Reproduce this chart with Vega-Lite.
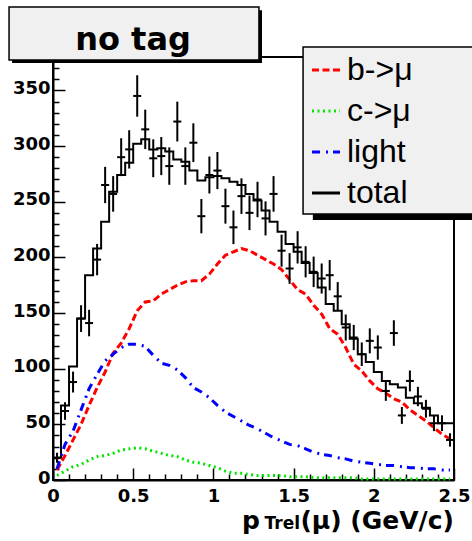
{
  "$schema": "https://vega.github.io/schema/vega-lite/v6.json",
  "width": 401,
  "height": 423,
  "autosize": {"type": "none"},
  "padding": {"left": 53, "top": 57, "right": 18, "bottom": 61},
  "background": "white",
  "resolve": {"axis": {"x": "independent", "y": "independent"}},
  "config": {
    "view": {"stroke": "#000", "strokeWidth": 2},
    "axis": {
      "domainColor": "#000", "domainWidth": 2, "tickColor": "#000", "tickWidth": 1.5,
      "labelColor": "#000", "labelFont": "DejaVu Sans", "labelFontWeight": "bold", "labelFontSize": 18,
      "grid": false, "title": null, "labelOverlap": false, "labelFlush": false, "labelBound": false
    },
    "legend": {
      "orient": "none", "legendX": 257, "legendY": -3, "padding": 0, "title": null,
      "symbolType": "stroke", "symbolSize": 784, "symbolStrokeWidth": 3,
      "labelFont": "Liberation Sans", "labelFontSize": 32, "labelColor": "#000",
      "labelOffset": 5, "rowPadding": 9
    }
  },
  "datasets": {
    "bins": [
      {"x":0.025,"xl":0.0,"xh":0.05,"d":20,"lo":15.5,"hi":24.5,"b":9,"c":4,"light":10},
      {"x":0.075,"xl":0.05,"xh":0.1,"d":62,"lo":54.1,"hi":69.9,"b":22,"c":8,"light":32},
      {"x":0.125,"xl":0.1,"xh":0.15,"d":88,"lo":78.6,"hi":97.4,"b":36,"c":12,"light":44},
      {"x":0.175,"xl":0.15,"xh":0.2,"d":145,"lo":133,"hi":157,"b":50,"c":14,"light":63},
      {"x":0.225,"xl":0.2,"xh":0.25,"d":141,"lo":129.1,"hi":152.9,"b":67,"c":18,"light":82},
      {"x":0.275,"xl":0.25,"xh":0.3,"d":198,"lo":183.9,"hi":212.1,"b":83,"c":21,"light":95},
      {"x":0.325,"xl":0.3,"xh":0.35,"d":265,"lo":248.7,"hi":281.3,"b":97,"c":22,"light":107},
      {"x":0.375,"xl":0.35,"xh":0.4,"d":257,"lo":241,"hi":273,"b":114,"c":24,"light":113},
      {"x":0.425,"xl":0.4,"xh":0.45,"d":290,"lo":273,"hi":307,"b":123,"c":27,"light":119},
      {"x":0.475,"xl":0.45,"xh":0.5,"d":297,"lo":279.8,"hi":314.2,"b":136,"c":28,"light":122},
      {"x":0.525,"xl":0.5,"xh":0.55,"d":345,"lo":326.4,"hi":363.6,"b":152,"c":29,"light":122},
      {"x":0.575,"xl":0.55,"xh":0.6,"d":315,"lo":297.3,"hi":332.7,"b":160,"c":28,"light":120},
      {"x":0.625,"xl":0.6,"xh":0.65,"d":289,"lo":272,"hi":306,"b":161,"c":26,"light":112},
      {"x":0.675,"xl":0.65,"xh":0.7,"d":291,"lo":273.9,"hi":308.1,"b":167,"c":24,"light":105},
      {"x":0.725,"xl":0.7,"xh":0.75,"d":282,"lo":265.2,"hi":298.8,"b":171,"c":22,"light":103},
      {"x":0.775,"xl":0.75,"xh":0.8,"d":322,"lo":304.1,"hi":339.9,"b":175,"c":21,"light":99},
      {"x":0.825,"xl":0.8,"xh":0.85,"d":282,"lo":265.2,"hi":298.8,"b":178,"c":18,"light":92},
      {"x":0.875,"xl":0.85,"xh":0.9,"d":303,"lo":285.6,"hi":320.4,"b":179,"c":16,"light":83},
      {"x":0.925,"xl":0.9,"xh":0.95,"d":237,"lo":221.6,"hi":252.4,"b":179,"c":15,"light":79},
      {"x":0.975,"xl":0.95,"xh":1.0,"d":274,"lo":257.4,"hi":290.6,"b":185,"c":13,"light":74},
      {"x":1.025,"xl":1.0,"xh":1.05,"d":278,"lo":261.3,"hi":294.7,"b":194,"c":11,"light":67},
      {"x":1.075,"xl":1.05,"xh":1.1,"d":246,"lo":230.3,"hi":261.7,"b":202,"c":8,"light":61},
      {"x":1.125,"xl":1.1,"xh":1.15,"d":227,"lo":211.9,"hi":242.1,"b":205,"c":6,"light":57},
      {"x":1.175,"xl":1.15,"xh":1.2,"d":255,"lo":239,"hi":271,"b":208,"c":6,"light":53},
      {"x":1.225,"xl":1.2,"xh":1.25,"d":240,"lo":224.5,"hi":255.5,"b":206,"c":5,"light":49},
      {"x":1.275,"xl":1.25,"xh":1.3,"d":252,"lo":236.1,"hi":267.9,"b":202,"c":4,"light":46},
      {"x":1.325,"xl":1.3,"xh":1.35,"d":235,"lo":219.7,"hi":250.3,"b":198,"c":4,"light":42},
      {"x":1.375,"xl":1.35,"xh":1.4,"d":257,"lo":241,"hi":273,"b":194,"c":4,"light":38},
      {"x":1.425,"xl":1.4,"xh":1.45,"d":206,"lo":191.6,"hi":220.4,"b":189,"c":4,"light":35},
      {"x":1.475,"xl":1.45,"xh":1.5,"d":190,"lo":176.2,"hi":203.8,"b":180,"c":3,"light":32},
      {"x":1.525,"xl":1.5,"xh":1.55,"d":209,"lo":194.5,"hi":223.5,"b":171,"c":3,"light":31},
      {"x":1.575,"xl":1.55,"xh":1.6,"d":196,"lo":182,"hi":210,"b":167,"c":3,"light":28},
      {"x":1.625,"xl":1.6,"xh":1.65,"d":187,"lo":173.3,"hi":200.7,"b":157,"c":2,"light":25},
      {"x":1.675,"xl":1.65,"xh":1.7,"d":181,"lo":167.5,"hi":194.5,"b":149,"c":2,"light":23},
      {"x":1.725,"xl":1.7,"xh":1.75,"d":184,"lo":170.4,"hi":197.6,"b":136,"c":2,"light":22},
      {"x":1.775,"xl":1.75,"xh":1.8,"d":165,"lo":152.2,"hi":177.8,"b":131,"c":2,"light":20},
      {"x":1.825,"xl":1.8,"xh":1.85,"d":137,"lo":125.3,"hi":148.7,"b":119,"c":2,"light":19},
      {"x":1.875,"xl":1.85,"xh":1.9,"d":128,"lo":116.7,"hi":139.3,"b":104,"c":2,"light":17},
      {"x":1.925,"xl":1.9,"xh":1.95,"d":113,"lo":102.4,"hi":123.6,"b":98,"c":1,"light":16},
      {"x":1.975,"xl":1.95,"xh":2.0,"d":125,"lo":113.8,"hi":136.2,"b":89,"c":1,"light":15},
      {"x":2.025,"xl":2.0,"xh":2.05,"d":119,"lo":108.1,"hi":129.9,"b":82,"c":1,"light":14},
      {"x":2.075,"xl":2.05,"xh":2.1,"d":80,"lo":71.1,"hi":88.9,"b":78,"c":1,"light":13},
      {"x":2.125,"xl":2.1,"xh":2.15,"d":132,"lo":120.5,"hi":143.5,"b":73,"c":1,"light":13},
      {"x":2.175,"xl":2.15,"xh":2.2,"d":58,"lo":50.4,"hi":65.6,"b":70,"c":1,"light":12},
      {"x":2.225,"xl":2.2,"xh":2.25,"d":89,"lo":79.6,"hi":98.4,"b":63,"c":1,"light":11},
      {"x":2.275,"xl":2.25,"xh":2.3,"d":75,"lo":66.3,"hi":83.7,"b":58,"c":1,"light":11},
      {"x":2.325,"xl":2.3,"xh":2.35,"d":64,"lo":56,"hi":72,"b":53,"c":1,"light":10},
      {"x":2.375,"xl":2.35,"xh":2.4,"d":51,"lo":43.9,"hi":58.1,"b":47,"c":1,"light":10},
      {"x":2.425,"xl":2.4,"xh":2.45,"d":51,"lo":43.9,"hi":58.1,"b":41,"c":1,"light":9},
      {"x":2.475,"xl":2.45,"xh":2.5,"d":36,"lo":30,"hi":42,"b":37,"c":1,"light":9}
    ],
    "totalhist": [
      {"edge":0.0,"total":20},{"edge":0.05,"total":67},{"edge":0.1,"total":102},{"edge":0.15,"total":145},
      {"edge":0.2,"total":184},{"edge":0.25,"total":208},{"edge":0.3,"total":232},{"edge":0.35,"total":259},
      {"edge":0.4,"total":274},{"edge":0.45,"total":285},{"edge":0.5,"total":302},{"edge":0.55,"total":306},
      {"edge":0.6,"total":297},{"edge":0.65,"total":298},{"edge":0.7,"total":295},{"edge":0.75,"total":288},
      {"edge":0.8,"total":286},{"edge":0.85,"total":278},{"edge":0.9,"total":269},{"edge":0.95,"total":272},
      {"edge":1.0,"total":273},{"edge":1.05,"total":271},{"edge":1.1,"total":268},{"edge":1.15,"total":265},
      {"edge":1.2,"total":257},{"edge":1.25,"total":251},{"edge":1.3,"total":242},{"edge":1.35,"total":232},
      {"edge":1.4,"total":223},{"edge":1.45,"total":212},{"edge":1.5,"total":205},{"edge":1.55,"total":195},
      {"edge":1.6,"total":186},{"edge":1.65,"total":173},{"edge":1.7,"total":158},{"edge":1.75,"total":152},
      {"edge":1.8,"total":140},{"edge":1.85,"total":127},{"edge":1.9,"total":113},{"edge":1.95,"total":106},
      {"edge":2.0,"total":97},{"edge":2.05,"total":89},{"edge":2.1,"total":86},{"edge":2.15,"total":83},
      {"edge":2.2,"total":74},{"edge":2.25,"total":69},{"edge":2.3,"total":65},{"edge":2.35,"total":58},
      {"edge":2.4,"total":51},{"edge":2.45,"total":51},{"edge":2.5,"total":51}
    ]
  },
  "layer": [
    {
      "data": {"name": "totalhist"},
      "transform": [{"fold": ["total"], "as": ["series", "value"]}],
      "mark": {"type": "line", "interpolate": "step-after", "strokeWidth": 2},
      "encoding": {
        "x": {"field": "edge", "type": "quantitative",
          "scale": {"domain": [0, 2.5], "nice": false, "zero": false},
          "axis": {
            "orient": "bottom",
            "values": [0,0.1,0.2,0.3,0.4,0.5,0.6,0.7,0.8,0.9,1,1.1,1.2,1.3,1.4,1.5,1.6,1.7,1.8,1.9,2,2.1,2.2,2.3,2.4,2.5],
            "format": "~g",
            "labelExpr": "round(datum.value*10) % 5 === 0 ? datum.label : ''",
            "tickSize": {"condition": {"test": "round(datum.value*10) % 5 === 0", "value": -12}, "value": -6},
            "labelPadding": 19
          }},
        "y": {"field": "value", "type": "quantitative",
          "scale": {"domain": [0, 380], "nice": false},
          "axis": {
            "orient": "left",
            "values": [0,10,20,30,40,50,60,70,80,90,100,110,120,130,140,150,160,170,180,190,200,210,220,230,240,250,260,270,280,290,300,310,320,330,340,350,360,370,380],
            "labelExpr": "datum.value % 50 === 0 ? datum.label : ''",
            "tickSize": {"condition": {"test": "datum.value % 50 === 0", "value": -12}, "value": -6},
            "labelPadding": 15,
            "labelOffset": -2
          }},
        "color": {"field": "series", "type": "nominal",
          "scale": {"domain": ["b", "c", "light", "total"], "range": ["#ff0000", "#00e600", "#0000ff", "#000000"]},
          "legend": {"labelExpr": "datum.label === 'b' ? 'b->μ' : datum.label === 'c' ? 'c->μ' : datum.label"}},
        "strokeDash": {"field": "series", "type": "nominal",
          "scale": {"domain": ["b", "c", "light", "total"], "range": [[7, 3.5], [2, 3.5], [8, 6, 2, 5], [1, 0]]},
          "legend": {"labelExpr": "datum.label === 'b' ? 'b->μ' : datum.label === 'c' ? 'c->μ' : datum.label"}}
      }
    },
    {
      "data": {"name": "bins"},
      "transform": [{"fold": ["b", "c", "light"], "as": ["series", "value"]}],
      "mark": {"type": "line", "strokeWidth": 3},
      "encoding": {
        "x": {"field": "x", "type": "quantitative", "axis": null},
        "y": {"field": "value", "type": "quantitative", "axis": null},
        "color": {"field": "series", "type": "nominal"},
        "strokeDash": {"field": "series", "type": "nominal"}
      }
    },
    {
      "data": {"name": "bins"},
      "mark": {"type": "rule", "color": "#000", "strokeWidth": 2},
      "encoding": {
        "x": {"field": "x", "type": "quantitative", "axis": null},
        "y": {"field": "lo", "type": "quantitative", "axis": null},
        "y2": {"field": "hi"}
      }
    },
    {
      "data": {"name": "bins"},
      "mark": {"type": "rule", "color": "#000", "strokeWidth": 2},
      "encoding": {
        "x": {"field": "xl", "type": "quantitative", "axis": null},
        "x2": {"field": "xh"},
        "y": {"field": "d", "type": "quantitative", "axis": null}
      }
    },
    {
      "data": {"values": [{}]},
      "mark": {"type": "rect", "fill": "#000"},
      "encoding": {
        "x": {"datum": -0.255, "type": "quantitative", "axis": null},
        "x2": {"datum": 1.303},
        "y": {"datum": 422, "type": "quantitative", "axis": null},
        "y2": {"datum": 374.6}
      }
    },
    {
      "data": {"values": [{}]},
      "mark": {"type": "rect", "fill": "#f0f0f0", "stroke": "#000", "strokeWidth": 1.5},
      "encoding": {
        "x": {"datum": -0.274, "type": "quantitative", "axis": null},
        "x2": {"datum": 1.284},
        "y": {"datum": 424.9, "type": "quantitative", "axis": null},
        "y2": {"datum": 377.3}
      }
    },
    {
      "data": {"values": [{}]},
      "mark": {"type": "text", "text": "no tag", "font": "DejaVu Sans", "fontWeight": "bold", "fontSize": 32, "align": "center", "baseline": "alphabetic", "color": "#000"},
      "encoding": {
        "x": {"datum": 0.499, "type": "quantitative", "axis": null},
        "y": {"datum": 386.3, "type": "quantitative", "axis": null}
      }
    },
    {
      "data": {"values": [{}]},
      "mark": {"type": "rect", "fill": "#000"},
      "encoding": {
        "x": {"datum": 1.62, "type": "quantitative", "axis": null},
        "x2": {"datum": 2.8},
        "y": {"datum": 385, "type": "quantitative", "axis": null},
        "y2": {"datum": 233.6}
      }
    },
    {
      "data": {"values": [{}]},
      "mark": {"type": "rect", "fill": "#f0f0f0", "stroke": "#000", "strokeWidth": 1.5},
      "encoding": {
        "x": {"datum": 1.559, "type": "quantitative", "axis": null},
        "x2": {"datum": 2.75},
        "y": {"datum": 389, "type": "quantitative", "axis": null},
        "y2": {"datum": 239}
      }
    },
    {
      "data": {"values": [{}]},
      "mark": {"type": "text", "text": "p", "font": "DejaVu Sans", "fontWeight": "bold", "fontSize": 25, "align": "right", "baseline": "alphabetic", "color": "#000"},
      "encoding": {
        "x": {"datum": 1.29, "type": "quantitative", "axis": null},
        "y": {"datum": -43.6, "type": "quantitative", "axis": null}
      }
    },
    {
      "data": {"values": [{}]},
      "mark": {"type": "text", "text": "Trel", "font": "DejaVu Sans", "fontWeight": "bold", "fontSize": 17, "align": "right", "baseline": "alphabetic", "color": "#000"},
      "encoding": {
        "x": {"datum": 1.54, "type": "quantitative", "axis": null},
        "y": {"datum": -43.6, "type": "quantitative", "axis": null}
      }
    },
    {
      "data": {"values": [{}]},
      "mark": {"type": "text", "text": "(μ) (GeV/c)", "font": "DejaVu Sans", "fontWeight": "bold", "fontSize": 25, "align": "right", "baseline": "alphabetic", "color": "#000"},
      "encoding": {
        "x": {"datum": 2.5, "type": "quantitative", "axis": null},
        "y": {"datum": -43.6, "type": "quantitative", "axis": null}
      }
    }
  ]
}
